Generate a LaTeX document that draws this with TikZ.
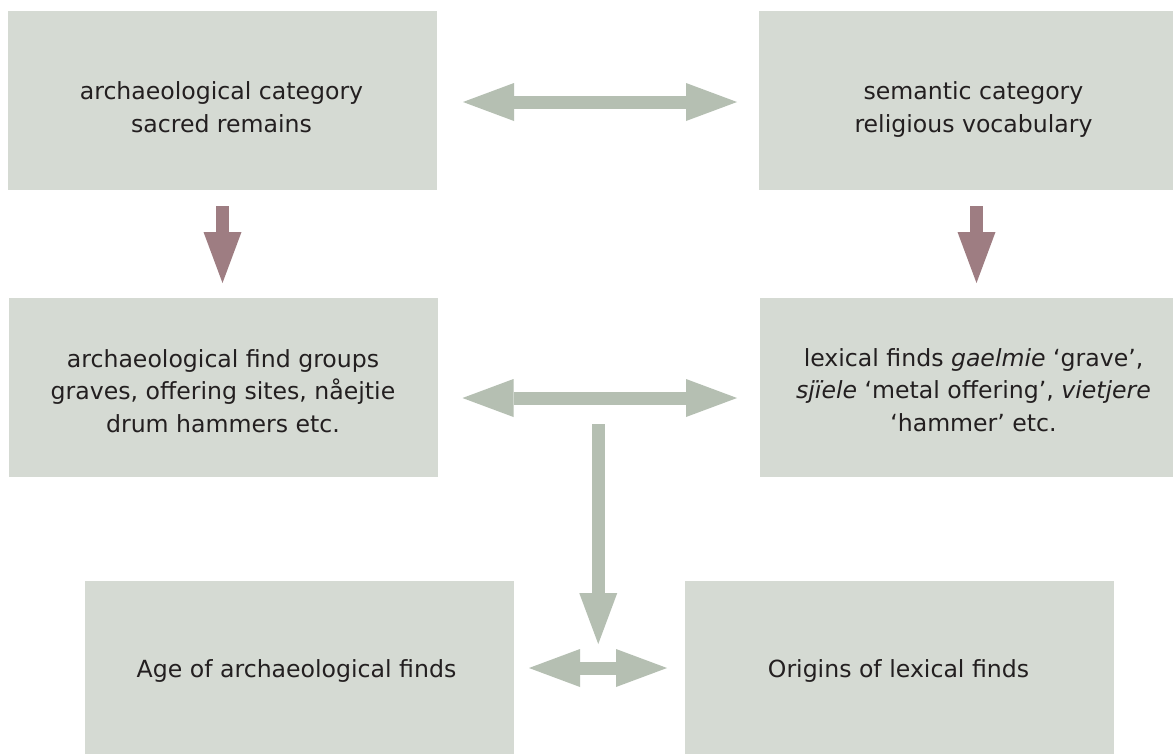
\documentclass[tikz,border=0pt]{standalone}
\usepackage{fontspec}
\setmainfont{DejaVu Sans}
\usetikzlibrary{arrows.meta,calc}
\definecolor{boxfill}{HTML}{D5DAD3}
\definecolor{arrowgray}{HTML}{B5BFB2}
\definecolor{arrowplum}{HTML}{9E7D82}
\definecolor{inktext}{HTML}{231F20}
\begin{document}
\begin{tikzpicture}[x=1pt,y=-1pt,
  panel/.style={rectangle, fill=boxfill, draw=none, minimum width=429pt, minimum height=179pt, inner sep=0pt, outer sep=0pt},
  boxtext/.style={align=center, inner sep=0pt, text=inktext, font=\fontsize{23.6}{32.5}\selectfont},
  blockarrow/.style={line width=13pt, -{Triangle[length=51pt,width=38pt,line width=0pt]}},
  twoway/.style={line width=13pt, {Triangle[length=51pt,width=38pt,line width=0pt]}-{Triangle[length=51pt,width=38pt,line width=0pt]}}
]
\path[use as bounding box, clip] (0,0) rectangle (1173,753);
\fill[white] (0,0) rectangle (1173,753);
% boxes
\node[panel] (tl) at (222.5,100.5) {};
\node[panel] (tr) at (973.5,100.5) {};
\node[panel] (ml) at (223,387.5) {};
\node[panel] (mr) at (974.5,387.5) {};
\node[panel] (bl) at (299.5,670.5) {};
\node[panel] (br) at (899.5,670.5) {};
% connectors
\draw[twoway, arrowgray, shorten <=26pt, shorten >=22pt] ($(tl.east)+(0,1.5)$) -- ($(tr.west)+(0,1.5)$);
\draw[twoway, arrowgray, shorten <=25pt, shorten >=23pt] ($(ml.east)+(0,10.5)$) -- ($(mr.west)+(0,10.5)$);
\draw[blockarrow, arrowplum, shorten <=16pt, shorten >=15pt] (tl.south) -- (tl.south |- ml.north);
\draw[blockarrow, arrowplum, shorten <=16pt, shorten >=15pt] ($(tr.south)+(3,0)$) -- ($(tr.south |- mr.north)+(3,0)$);
\coordinate (split) at ($(ml.east)!0.5!(mr.west)$);
\coordinate (merge) at ($(bl.east)!0.5!(br.west)$);
\draw[blockarrow, arrowgray] ($(split)+(-0.5,36.5)$) -- ($(split |- merge)+(-0.5,-26.5)$);
\draw[twoway, arrowgray, shorten <=15pt, shorten >=18pt] ($(bl.east)+(0,-2.5)$) -- ($(br.west)+(0,-2.5)$);
% texts
\node[boxtext] (tlt) at ($(tl.center)+(-1,9)$) {\strut archaeological category\\\strut sacred remains};
\node[boxtext] (trt) at ($(tr.center)+(0,9)$) {\strut semantic category\\\strut religious vocabulary};
\node[boxtext] (mlt) at ($(ml.center)+(0,5.5)$) {\strut archaeological find groups\\\strut graves, offering sites, nåejtie\\\strut drum hammers etc.};
\node[boxtext] (mrt) at ($(mr.center)+(-1,4.5)$) {\strut lexical finds \textit{gaelmie} ‘grave’,\\\strut\textit{sjïele} ‘metal offering’, \textit{vietjere}\\\strut ‘hammer’ etc.};
\node[boxtext] (blt) at ($(bl.center)+(-3,0)$) {\strut Age of archaeological finds};
\node[boxtext] (brt) at ($(br.center)+(-1,0)$) {\strut Origins of lexical finds};
\end{tikzpicture}
\end{document}
